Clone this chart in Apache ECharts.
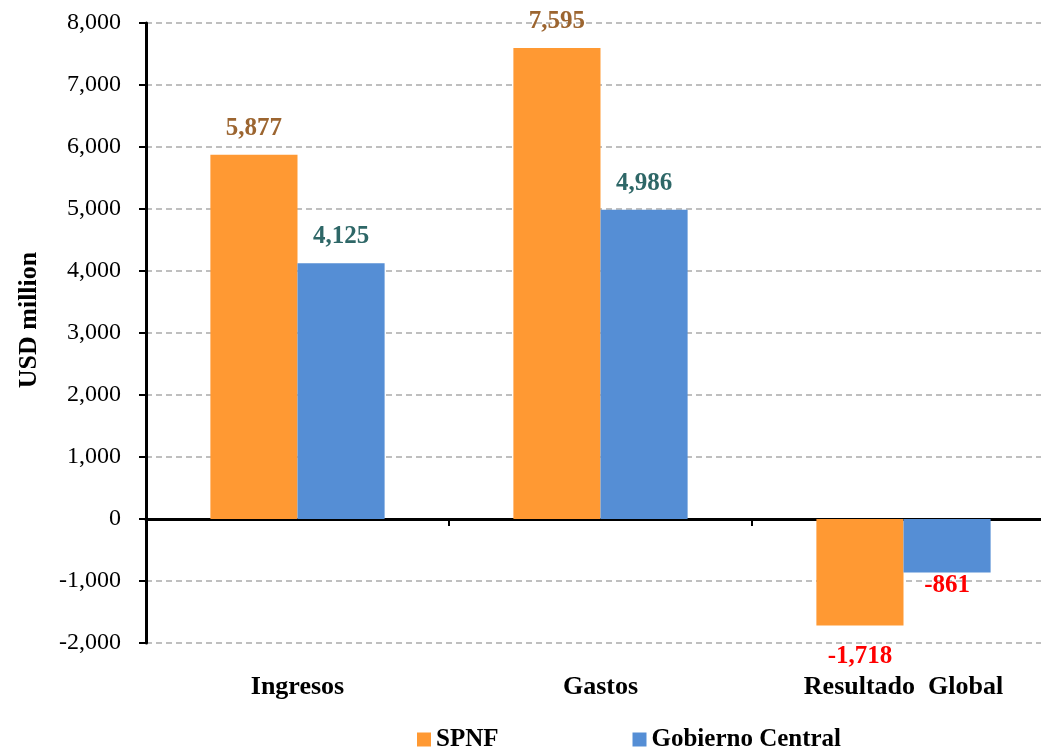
<!DOCTYPE html>
<html>
<head>
<meta charset="utf-8">
<script src="https://cdn.jsdelivr.net/npm/echarts@6/dist/echarts.min.js"></script>
<style>
  html, body { margin: 0; padding: 0; background: #fff; }
  #main { width: 1041px; height: 749px; }
</style>
</head>
<body>
<div id="main"></div>
<script>
var categories = ['Ingresos', 'Gastos', 'Resultado  Global'];
var spnf = [5877, 7595, -1718];
var gobierno = [4125, 4986, -861];
var seriesNames = ['SPNF', 'Gobierno Central'];

var FONT = '"Liberation Serif", "DejaVu Serif", serif';

// etiqueta por barra: los negativos van en rojo debajo
function makeData(values, color, negDist) {
    return values.map(function (v) {
        if (v < 0) {
            return {
                value: v,
                label: { position: 'bottom', color: '#FF0000', distance: negDist }
            };
        }
        return { value: v, label: { color: color } };
    });
}

var chart = echarts.init(document.getElementById('main'), null, { renderer: 'canvas' });

var option = {
    backgroundColor: '#ffffff',
    textStyle: { fontFamily: FONT },
    grid: {
        left: 146,
        top: 23,
        width: 909,
        height: 620,
        outerBoundsMode: 'none',
        containLabel: false
    },
    legend: {
        top: 722,
        left: 412,
        itemWidth: 14,
        itemHeight: 14,
        itemGap: 134,
        icon: 'rect',
        textStyle: { fontFamily: FONT, fontSize: 25, fontWeight: 'bold', color: '#000' },
        data: seriesNames
    },
    xAxis: [
        {
            // linea del cero con las marcas
            type: 'category',
            data: categories,
            axisLine: { onZero: true, lineStyle: { color: '#000', width: 3 } },
            axisTick: { show: true, length: 7, lineStyle: { color: '#000', width: 2 } },
            axisLabel: { show: false },
            splitLine: { show: false }
        },
        {
            // solo las etiquetas abajo
            type: 'category',
            data: categories,
            position: 'bottom',
            axisLine: { show: false, onZero: false },
            axisTick: { show: false },
            axisLabel: {
                margin: 31,
                fontFamily: FONT,
                fontSize: 26,
                fontWeight: 'bold',
                color: '#000'
            },
            splitLine: { show: false }
        }
    ],
    yAxis: {
        type: 'value',
        min: -2000,
        max: 8000,
        interval: 1000,
        name: 'USD million',
        nameLocation: 'middle',
        nameGap: 104,
        nameTextStyle: {
            fontFamily: FONT, fontSize: 26, fontWeight: 'bold', color: '#000',
            padding: [0, 0, 0, 26]
        },
        axisLine: { show: true, lineStyle: { color: '#000', width: 3 } },
        axisTick: { show: true, length: 7, lineStyle: { color: '#000', width: 2 } },
        axisLabel: {
            margin: 25,
            fontFamily: FONT,
            fontSize: 24,
            color: '#000',
            formatter: function (v) {
                return v.toLocaleString('en-US');
            }
        },
        splitLine: {
            show: true,
            lineStyle: { color: '#BFBFBF', width: 2, type: [6, 4] }
        }
    },
    series: [
        {
            name: seriesNames[0],
            type: 'bar',
            data: makeData(spnf, '#9C6530', 19),
            barGap: '0%',
            barCategoryGap: '42.5%',
            itemStyle: { color: '#FF9933' },
            label: {
                show: true,
                position: 'top',
                distance: 14,
                fontFamily: FONT,
                fontSize: 25,
                fontWeight: 'bold',
                formatter: function (p) { return p.value.toLocaleString('en-US'); }
            }
        },
        {
            name: seriesNames[1],
            type: 'bar',
            data: makeData(gobierno, '#2E6767', 1),
            barGap: '0%',
            barCategoryGap: '42.5%',
            itemStyle: { color: '#558ED5' },
            label: {
                show: true,
                position: 'top',
                distance: 14,
                fontFamily: FONT,
                fontSize: 25,
                fontWeight: 'bold',
                formatter: function (p) { return p.value.toLocaleString('en-US'); }
            }
        }
    ]
};

chart.setOption(option);
</script>
</body>
</html>
